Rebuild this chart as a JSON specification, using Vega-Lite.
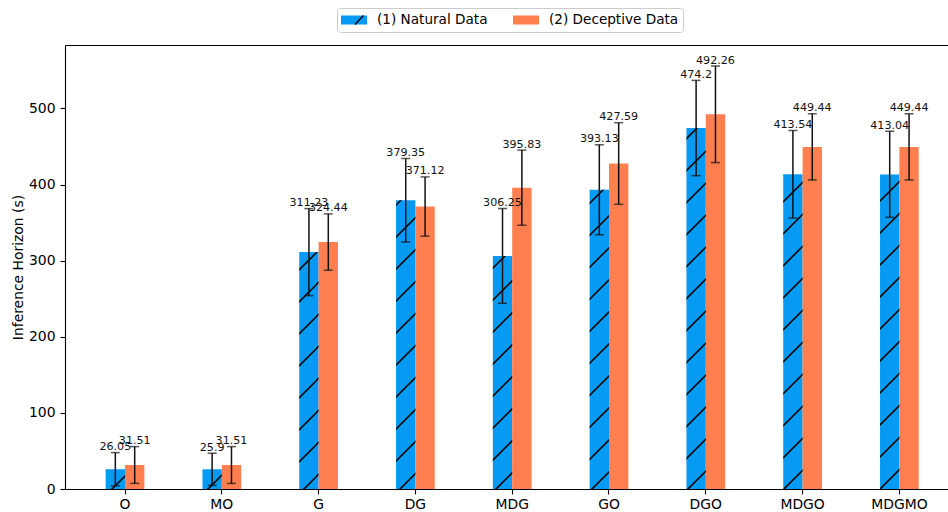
{
  "$schema": "https://vega.github.io/schema/vega-lite/v6.json",
  "width": 883,
  "height": 444,
  "autosize": "none",
  "padding": {"left": 65, "top": 45, "right": 0, "bottom": 23},
  "background": "white",
  "config": {
    "font": "DejaVu Sans",
    "view": {"stroke": null},
    "axis": {
      "grid": false,
      "domainColor": "black",
      "domainWidth": 1.1,
      "tickColor": "black",
      "tickWidth": 1.1,
      "tickSize": 5,
      "labelColor": "black",
      "labelFont": "DejaVu Sans",
      "labelFontSize": 13.9,
      "titleColor": "black",
      "titleFont": "DejaVu Sans",
      "titleFontSize": 13.9,
      "titleFontWeight": "normal"
    }
  },
  "data": {
    "values": [
      {"cat": "O", "series": "(1) Natural Data", "value": 26.05, "lo": 4.3, "hi": 47.8},
      {"cat": "O", "series": "(2) Deceptive Data", "value": 31.51, "lo": 7.3, "hi": 55.7},
      {"cat": "MO", "series": "(1) Natural Data", "value": 25.9, "lo": 4.8, "hi": 47.0},
      {"cat": "MO", "series": "(2) Deceptive Data", "value": 31.51, "lo": 7.3, "hi": 55.7},
      {"cat": "G", "series": "(1) Natural Data", "value": 311.23, "lo": 254.0, "hi": 368.4},
      {"cat": "G", "series": "(2) Deceptive Data", "value": 324.44, "lo": 287.4, "hi": 361.4},
      {"cat": "DG", "series": "(1) Natural Data", "value": 379.35, "lo": 324.5, "hi": 434.2},
      {"cat": "DG", "series": "(2) Deceptive Data", "value": 371.12, "lo": 332.2, "hi": 410.0},
      {"cat": "MDG", "series": "(1) Natural Data", "value": 306.25, "lo": 244.0, "hi": 368.5},
      {"cat": "MDG", "series": "(2) Deceptive Data", "value": 395.83, "lo": 346.5, "hi": 445.2},
      {"cat": "GO", "series": "(1) Natural Data", "value": 393.13, "lo": 334.0, "hi": 452.2},
      {"cat": "GO", "series": "(2) Deceptive Data", "value": 427.59, "lo": 374.0, "hi": 481.2},
      {"cat": "DGO", "series": "(1) Natural Data", "value": 474.2, "lo": 411.6, "hi": 536.8},
      {"cat": "DGO", "series": "(2) Deceptive Data", "value": 492.26, "lo": 428.8, "hi": 555.7},
      {"cat": "MDGO", "series": "(1) Natural Data", "value": 413.54, "lo": 356.0, "hi": 471.0},
      {"cat": "MDGO", "series": "(2) Deceptive Data", "value": 449.44, "lo": 406.0, "hi": 493.0},
      {"cat": "MDGMO", "series": "(1) Natural Data", "value": 413.04, "lo": 357.0, "hi": 470.0},
      {"cat": "MDGMO", "series": "(2) Deceptive Data", "value": 449.44, "lo": 406.0, "hi": 493.0}
    ]
  },
  "encoding": {
    "x": {
      "field": "cat", "type": "nominal", "sort": null,
      "scale": {"type": "band", "paddingInner": 0.6, "paddingOuter": 0.42, "range": [0, 894.4]},
      "axis": null
    },
    "xOffset": {
      "field": "series", "type": "nominal", "sort": null,
      "scale": {"paddingInner": 0, "paddingOuter": 0}
    }
  },
  "layer": [
    {
      "mark": {"type": "bar"},
      "encoding": {
        "x": {
          "field": "cat", "type": "nominal", "sort": null,
          "scale": {"type": "band", "paddingInner": 0.6, "paddingOuter": 0.42, "range": [0, 894.4]},
          "axis": {"orient": "bottom", "title": null, "labelAngle": 0, "labelPadding": 3}
        },
        "y": {
          "field": "value", "type": "quantitative",
          "scale": {"domain": [0, 583.3], "nice": false, "zero": true},
          "axis": {"title": "Inference Horizon (s)", "values": [0, 100, 200, 300, 400, 500], "labelPadding": 5, "titleX": -47, "titleY": 222, "titleBaseline": "middle"}
        },
        "color": {
          "field": "series", "type": "nominal",
          "scale": {"domain": ["(1) Natural Data", "(2) Deceptive Data"], "range": ["#069AF3", "#FF7F50"]},
          "legend": {
            "orient": "none", "legendX": 272, "legendY": -37,
            "direction": "horizontal", "title": null,
            "symbolType": "M-1,-0.346H1V0.346H-1Z", "symbolSize": 676,
            "symbolStrokeWidth": 0, "symbolOpacity": 1, "clipHeight": 16,
            "labelFontSize": 13.6, "labelColor": "black", "labelFont": "DejaVu Sans",
            "labelOffset": 10, "columnPadding": 25, "padding": 4,
            "strokeColor": "#cccccc", "fillColor": "white", "cornerRadius": 3,
            "zindex": 0
          }
        }
      }
    },
    {
      "transform": [{"filter": "datum.series === '(1) Natural Data'"}],
      "mark": {"type": "bar"},
      "encoding": {
        "y": {"field": "value", "type": "quantitative"},
        "strokeWidth": {
          "field": "series", "type": "ordinal",
          "scale": {"range": [1.4, 1.4]},
          "legend": {
            "orient": "none", "legendX": 272, "legendY": -37,
            "direction": "horizontal", "title": null,
            "symbolType": "M0,0.346L0.65,-0.346", "symbolSize": 676, "clipHeight": 16,
            "symbolStrokeColor": "black", "symbolFillColor": "transparent", "symbolOpacity": 1,
            "labelExpr": "''", "labelFontSize": 13.6, "labelOffset": 10, "padding": 4,
            "zindex": 1
          }
        },
        "fill": {
          "condition": [
            {"test": "datum.cat === 'O'", "value": {"gradient": "linear", "x1": 0, "y1": 0, "x2": 0.98786, "y2": 1.01184, "stops": [
              {"offset": 0.6351, "color": "rgba(0,0,0,0)"}, {"offset": 0.6479, "color": "#000"}, {"offset": 0.6887, "color": "#000"}, {"offset": 0.7015, "color": "rgba(0,0,0,0)"}
            ]}},
            {"test": "datum.cat === 'MO'", "value": {"gradient": "linear", "x1": 0, "y1": 0, "x2": 0.99097, "y2": 1.00888, "stops": [
              {"offset": 0.6135, "color": "rgba(0,0,0,0)"}, {"offset": 0.6263, "color": "#000"}, {"offset": 0.6673, "color": "#000"}, {"offset": 0.6801, "color": "rgba(0,0,0,0)"}
            ]}},
            {"test": "datum.cat === 'G'", "value": {"gradient": "linear", "x1": 0, "y1": 0, "x2": 0.087813, "y2": 1.07453, "stops": [
              {"offset": 0.0638, "color": "rgba(0,0,0,0)"}, {"offset": 0.0658, "color": "#000"}, {"offset": 0.0720, "color": "#000"}, {"offset": 0.0740, "color": "rgba(0,0,0,0)"},
              {"offset": 0.1887, "color": "rgba(0,0,0,0)"}, {"offset": 0.1907, "color": "#000"}, {"offset": 0.1969, "color": "#000"}, {"offset": 0.1989, "color": "rgba(0,0,0,0)"},
              {"offset": 0.3136, "color": "rgba(0,0,0,0)"}, {"offset": 0.3155, "color": "#000"}, {"offset": 0.3218, "color": "#000"}, {"offset": 0.3237, "color": "rgba(0,0,0,0)"},
              {"offset": 0.4385, "color": "rgba(0,0,0,0)"}, {"offset": 0.4404, "color": "#000"}, {"offset": 0.4467, "color": "#000"}, {"offset": 0.4486, "color": "rgba(0,0,0,0)"},
              {"offset": 0.5633, "color": "rgba(0,0,0,0)"}, {"offset": 0.5653, "color": "#000"}, {"offset": 0.5715, "color": "#000"}, {"offset": 0.5735, "color": "rgba(0,0,0,0)"},
              {"offset": 0.6882, "color": "rgba(0,0,0,0)"}, {"offset": 0.6902, "color": "#000"}, {"offset": 0.6964, "color": "#000"}, {"offset": 0.6984, "color": "rgba(0,0,0,0)"},
              {"offset": 0.8131, "color": "rgba(0,0,0,0)"}, {"offset": 0.8150, "color": "#000"}, {"offset": 0.8213, "color": "#000"}, {"offset": 0.8232, "color": "rgba(0,0,0,0)"},
              {"offset": 0.9380, "color": "rgba(0,0,0,0)"}, {"offset": 0.9399, "color": "#000"}, {"offset": 0.9461, "color": "#000"}, {"offset": 0.9481, "color": "rgba(0,0,0,0)"}
            ]}},
            {"test": "datum.cat === 'DG'", "value": {"gradient": "linear", "x1": 0, "y1": 0, "x2": 0.071210, "y2": 1.062264, "stops": [
              {"offset": 0.0112, "color": "rgba(0,0,0,0)"}, {"offset": 0.0128, "color": "#000"}, {"offset": 0.0180, "color": "#000"}, {"offset": 0.0197, "color": "rgba(0,0,0,0)"},
              {"offset": 0.1151, "color": "rgba(0,0,0,0)"}, {"offset": 0.1167, "color": "#000"}, {"offset": 0.1219, "color": "#000"}, {"offset": 0.1235, "color": "rgba(0,0,0,0)"},
              {"offset": 0.2189, "color": "rgba(0,0,0,0)"}, {"offset": 0.2205, "color": "#000"}, {"offset": 0.2257, "color": "#000"}, {"offset": 0.2274, "color": "rgba(0,0,0,0)"},
              {"offset": 0.3228, "color": "rgba(0,0,0,0)"}, {"offset": 0.3244, "color": "#000"}, {"offset": 0.3296, "color": "#000"}, {"offset": 0.3312, "color": "rgba(0,0,0,0)"},
              {"offset": 0.4266, "color": "rgba(0,0,0,0)"}, {"offset": 0.4282, "color": "#000"}, {"offset": 0.4334, "color": "#000"}, {"offset": 0.4350, "color": "rgba(0,0,0,0)"},
              {"offset": 0.5304, "color": "rgba(0,0,0,0)"}, {"offset": 0.5321, "color": "#000"}, {"offset": 0.5373, "color": "#000"}, {"offset": 0.5389, "color": "rgba(0,0,0,0)"},
              {"offset": 0.6343, "color": "rgba(0,0,0,0)"}, {"offset": 0.6359, "color": "#000"}, {"offset": 0.6411, "color": "#000"}, {"offset": 0.6427, "color": "rgba(0,0,0,0)"},
              {"offset": 0.7381, "color": "rgba(0,0,0,0)"}, {"offset": 0.7397, "color": "#000"}, {"offset": 0.7449, "color": "#000"}, {"offset": 0.7466, "color": "rgba(0,0,0,0)"},
              {"offset": 0.8420, "color": "rgba(0,0,0,0)"}, {"offset": 0.8436, "color": "#000"}, {"offset": 0.8488, "color": "#000"}, {"offset": 0.8504, "color": "rgba(0,0,0,0)"},
              {"offset": 0.9458, "color": "rgba(0,0,0,0)"}, {"offset": 0.9474, "color": "#000"}, {"offset": 0.9526, "color": "#000"}, {"offset": 0.9542, "color": "rgba(0,0,0,0)"}
            ]}},
            {"test": "datum.cat === 'MDG'", "value": {"gradient": "linear", "x1": 0, "y1": 0, "x2": 0.089337, "y2": 1.075640, "stops": [
              {"offset": 0.0434, "color": "rgba(0,0,0,0)"}, {"offset": 0.0454, "color": "#000"}, {"offset": 0.0517, "color": "#000"}, {"offset": 0.0537, "color": "rgba(0,0,0,0)"},
              {"offset": 0.1702, "color": "rgba(0,0,0,0)"}, {"offset": 0.1721, "color": "#000"}, {"offset": 0.1785, "color": "#000"}, {"offset": 0.1805, "color": "rgba(0,0,0,0)"},
              {"offset": 0.2969, "color": "rgba(0,0,0,0)"}, {"offset": 0.2989, "color": "#000"}, {"offset": 0.3052, "color": "#000"}, {"offset": 0.3072, "color": "rgba(0,0,0,0)"},
              {"offset": 0.4237, "color": "rgba(0,0,0,0)"}, {"offset": 0.4257, "color": "#000"}, {"offset": 0.4320, "color": "#000"}, {"offset": 0.4340, "color": "rgba(0,0,0,0)"},
              {"offset": 0.5504, "color": "rgba(0,0,0,0)"}, {"offset": 0.5524, "color": "#000"}, {"offset": 0.5587, "color": "#000"}, {"offset": 0.5607, "color": "rgba(0,0,0,0)"},
              {"offset": 0.6772, "color": "rgba(0,0,0,0)"}, {"offset": 0.6792, "color": "#000"}, {"offset": 0.6855, "color": "#000"}, {"offset": 0.6875, "color": "rgba(0,0,0,0)"},
              {"offset": 0.8039, "color": "rgba(0,0,0,0)"}, {"offset": 0.8059, "color": "#000"}, {"offset": 0.8123, "color": "#000"}, {"offset": 0.8142, "color": "rgba(0,0,0,0)"},
              {"offset": 0.9307, "color": "rgba(0,0,0,0)"}, {"offset": 0.9327, "color": "#000"}, {"offset": 0.9390, "color": "#000"}, {"offset": 0.9410, "color": "rgba(0,0,0,0)"}
            ]}},
            {"test": "datum.cat === 'GO'", "value": {"gradient": "linear", "x1": 0, "y1": 0, "x2": 0.068606, "y2": 1.060275, "stops": [
              {"offset": 0.0385, "color": "rgba(0,0,0,0)"}, {"offset": 0.0401, "color": "#000"}, {"offset": 0.0451, "color": "#000"}, {"offset": 0.0467, "color": "rgba(0,0,0,0)"},
              {"offset": 0.1389, "color": "rgba(0,0,0,0)"}, {"offset": 0.1405, "color": "#000"}, {"offset": 0.1455, "color": "#000"}, {"offset": 0.1471, "color": "rgba(0,0,0,0)"},
              {"offset": 0.2394, "color": "rgba(0,0,0,0)"}, {"offset": 0.2410, "color": "#000"}, {"offset": 0.2460, "color": "#000"}, {"offset": 0.2476, "color": "rgba(0,0,0,0)"},
              {"offset": 0.3398, "color": "rgba(0,0,0,0)"}, {"offset": 0.3414, "color": "#000"}, {"offset": 0.3464, "color": "#000"}, {"offset": 0.3480, "color": "rgba(0,0,0,0)"},
              {"offset": 0.4403, "color": "rgba(0,0,0,0)"}, {"offset": 0.4419, "color": "#000"}, {"offset": 0.4469, "color": "#000"}, {"offset": 0.4485, "color": "rgba(0,0,0,0)"},
              {"offset": 0.5407, "color": "rgba(0,0,0,0)"}, {"offset": 0.5423, "color": "#000"}, {"offset": 0.5473, "color": "#000"}, {"offset": 0.5489, "color": "rgba(0,0,0,0)"},
              {"offset": 0.6412, "color": "rgba(0,0,0,0)"}, {"offset": 0.6428, "color": "#000"}, {"offset": 0.6478, "color": "#000"}, {"offset": 0.6494, "color": "rgba(0,0,0,0)"},
              {"offset": 0.7416, "color": "rgba(0,0,0,0)"}, {"offset": 0.7432, "color": "#000"}, {"offset": 0.7482, "color": "#000"}, {"offset": 0.7498, "color": "rgba(0,0,0,0)"},
              {"offset": 0.8421, "color": "rgba(0,0,0,0)"}, {"offset": 0.8437, "color": "#000"}, {"offset": 0.8487, "color": "#000"}, {"offset": 0.8503, "color": "rgba(0,0,0,0)"},
              {"offset": 0.9426, "color": "rgba(0,0,0,0)"}, {"offset": 0.9441, "color": "#000"}, {"offset": 0.9491, "color": "#000"}, {"offset": 0.9507, "color": "rgba(0,0,0,0)"}
            ]}},
            {"test": "datum.cat === 'DGO'", "value": {"gradient": "linear", "x1": 0, "y1": 0, "x2": 0.056343, "y2": 1.050618, "stops": [
              {"offset": 0.0243, "color": "rgba(0,0,0,0)"}, {"offset": 0.0257, "color": "#000"}, {"offset": 0.0299, "color": "#000"}, {"offset": 0.0312, "color": "rgba(0,0,0,0)"},
              {"offset": 0.1085, "color": "rgba(0,0,0,0)"}, {"offset": 0.1098, "color": "#000"}, {"offset": 0.1140, "color": "#000"}, {"offset": 0.1153, "color": "rgba(0,0,0,0)"},
              {"offset": 0.1926, "color": "rgba(0,0,0,0)"}, {"offset": 0.1939, "color": "#000"}, {"offset": 0.1981, "color": "#000"}, {"offset": 0.1994, "color": "rgba(0,0,0,0)"},
              {"offset": 0.2767, "color": "rgba(0,0,0,0)"}, {"offset": 0.2781, "color": "#000"}, {"offset": 0.2823, "color": "#000"}, {"offset": 0.2836, "color": "rgba(0,0,0,0)"},
              {"offset": 0.3609, "color": "rgba(0,0,0,0)"}, {"offset": 0.3622, "color": "#000"}, {"offset": 0.3664, "color": "#000"}, {"offset": 0.3677, "color": "rgba(0,0,0,0)"},
              {"offset": 0.4450, "color": "rgba(0,0,0,0)"}, {"offset": 0.4463, "color": "#000"}, {"offset": 0.4505, "color": "#000"}, {"offset": 0.4518, "color": "rgba(0,0,0,0)"},
              {"offset": 0.5291, "color": "rgba(0,0,0,0)"}, {"offset": 0.5304, "color": "#000"}, {"offset": 0.5346, "color": "#000"}, {"offset": 0.5360, "color": "rgba(0,0,0,0)"},
              {"offset": 0.6133, "color": "rgba(0,0,0,0)"}, {"offset": 0.6146, "color": "#000"}, {"offset": 0.6188, "color": "#000"}, {"offset": 0.6201, "color": "rgba(0,0,0,0)"},
              {"offset": 0.6974, "color": "rgba(0,0,0,0)"}, {"offset": 0.6987, "color": "#000"}, {"offset": 0.7029, "color": "#000"}, {"offset": 0.7042, "color": "rgba(0,0,0,0)"},
              {"offset": 0.7815, "color": "rgba(0,0,0,0)"}, {"offset": 0.7828, "color": "#000"}, {"offset": 0.7870, "color": "#000"}, {"offset": 0.7884, "color": "rgba(0,0,0,0)"},
              {"offset": 0.8657, "color": "rgba(0,0,0,0)"}, {"offset": 0.8670, "color": "#000"}, {"offset": 0.8712, "color": "#000"}, {"offset": 0.8725, "color": "rgba(0,0,0,0)"},
              {"offset": 0.9498, "color": "rgba(0,0,0,0)"}, {"offset": 0.9511, "color": "#000"}, {"offset": 0.9553, "color": "#000"}, {"offset": 0.9566, "color": "rgba(0,0,0,0)"}
            ]}},
            {"test": "datum.cat === 'MDGO'", "value": {"gradient": "linear", "x1": 0, "y1": 0, "x2": 0.065036, "y2": 1.057508, "stops": [
              {"offset": 0.0786, "color": "rgba(0,0,0,0)"}, {"offset": 0.0801, "color": "#000"}, {"offset": 0.0849, "color": "#000"}, {"offset": 0.0864, "color": "rgba(0,0,0,0)"},
              {"offset": 0.1743, "color": "rgba(0,0,0,0)"}, {"offset": 0.1758, "color": "#000"}, {"offset": 0.1806, "color": "#000"}, {"offset": 0.1821, "color": "rgba(0,0,0,0)"},
              {"offset": 0.2701, "color": "rgba(0,0,0,0)"}, {"offset": 0.2716, "color": "#000"}, {"offset": 0.2764, "color": "#000"}, {"offset": 0.2779, "color": "rgba(0,0,0,0)"},
              {"offset": 0.3659, "color": "rgba(0,0,0,0)"}, {"offset": 0.3674, "color": "#000"}, {"offset": 0.3722, "color": "#000"}, {"offset": 0.3737, "color": "rgba(0,0,0,0)"},
              {"offset": 0.4616, "color": "rgba(0,0,0,0)"}, {"offset": 0.4631, "color": "#000"}, {"offset": 0.4679, "color": "#000"}, {"offset": 0.4694, "color": "rgba(0,0,0,0)"},
              {"offset": 0.5574, "color": "rgba(0,0,0,0)"}, {"offset": 0.5589, "color": "#000"}, {"offset": 0.5637, "color": "#000"}, {"offset": 0.5652, "color": "rgba(0,0,0,0)"},
              {"offset": 0.6532, "color": "rgba(0,0,0,0)"}, {"offset": 0.6547, "color": "#000"}, {"offset": 0.6594, "color": "#000"}, {"offset": 0.6609, "color": "rgba(0,0,0,0)"},
              {"offset": 0.7489, "color": "rgba(0,0,0,0)"}, {"offset": 0.7504, "color": "#000"}, {"offset": 0.7552, "color": "#000"}, {"offset": 0.7567, "color": "rgba(0,0,0,0)"},
              {"offset": 0.8447, "color": "rgba(0,0,0,0)"}, {"offset": 0.8462, "color": "#000"}, {"offset": 0.8510, "color": "#000"}, {"offset": 0.8525, "color": "rgba(0,0,0,0)"},
              {"offset": 0.9404, "color": "rgba(0,0,0,0)"}, {"offset": 0.9419, "color": "#000"}, {"offset": 0.9467, "color": "#000"}, {"offset": 0.9482, "color": "rgba(0,0,0,0)"}
            ]}},
            {"test": "datum.cat === 'MDGMO'", "value": {"gradient": "linear", "x1": 0, "y1": 0, "x2": 0.065123, "y2": 1.057579, "stops": [
              {"offset": 0.0751, "color": "rgba(0,0,0,0)"}, {"offset": 0.0766, "color": "#000"}, {"offset": 0.0814, "color": "#000"}, {"offset": 0.0829, "color": "rgba(0,0,0,0)"},
              {"offset": 0.1710, "color": "rgba(0,0,0,0)"}, {"offset": 0.1725, "color": "#000"}, {"offset": 0.1773, "color": "#000"}, {"offset": 0.1788, "color": "rgba(0,0,0,0)"},
              {"offset": 0.2668, "color": "rgba(0,0,0,0)"}, {"offset": 0.2683, "color": "#000"}, {"offset": 0.2731, "color": "#000"}, {"offset": 0.2746, "color": "rgba(0,0,0,0)"},
              {"offset": 0.3627, "color": "rgba(0,0,0,0)"}, {"offset": 0.3642, "color": "#000"}, {"offset": 0.3690, "color": "#000"}, {"offset": 0.3705, "color": "rgba(0,0,0,0)"},
              {"offset": 0.4586, "color": "rgba(0,0,0,0)"}, {"offset": 0.4601, "color": "#000"}, {"offset": 0.4649, "color": "#000"}, {"offset": 0.4664, "color": "rgba(0,0,0,0)"},
              {"offset": 0.5545, "color": "rgba(0,0,0,0)"}, {"offset": 0.5560, "color": "#000"}, {"offset": 0.5608, "color": "#000"}, {"offset": 0.5623, "color": "rgba(0,0,0,0)"},
              {"offset": 0.6503, "color": "rgba(0,0,0,0)"}, {"offset": 0.6518, "color": "#000"}, {"offset": 0.6566, "color": "#000"}, {"offset": 0.6581, "color": "rgba(0,0,0,0)"},
              {"offset": 0.7462, "color": "rgba(0,0,0,0)"}, {"offset": 0.7477, "color": "#000"}, {"offset": 0.7525, "color": "#000"}, {"offset": 0.7540, "color": "rgba(0,0,0,0)"},
              {"offset": 0.8421, "color": "rgba(0,0,0,0)"}, {"offset": 0.8436, "color": "#000"}, {"offset": 0.8484, "color": "#000"}, {"offset": 0.8499, "color": "rgba(0,0,0,0)"},
              {"offset": 0.9380, "color": "rgba(0,0,0,0)"}, {"offset": 0.9395, "color": "#000"}, {"offset": 0.9443, "color": "#000"}, {"offset": 0.9458, "color": "rgba(0,0,0,0)"}
            ]}}
          ],
          "value": "transparent"
        }
      }
    },
    {
      "mark": {"type": "rule", "color": "#111111", "strokeWidth": 1.5},
      "encoding": {
        "y": {"field": "lo", "type": "quantitative"},
        "y2": {"field": "hi"}
      }
    },
    {
      "mark": {"type": "tick", "color": "#111111", "size": 9, "thickness": 1.5, "orient": "horizontal"},
      "encoding": {
        "y": {"field": "lo", "type": "quantitative"}
      }
    },
    {
      "mark": {"type": "tick", "color": "#111111", "size": 9, "thickness": 1.5, "orient": "horizontal"},
      "encoding": {
        "y": {"field": "hi", "type": "quantitative"}
      }
    },
    {
      "mark": {"type": "text", "font": "DejaVu Sans", "fontSize": 11.1, "color": "#111111", "baseline": "alphabetic", "align": "center", "dy": -2.5},
      "encoding": {
        "x": {
          "field": "cat", "type": "nominal", "sort": null,
          "scale": {"type": "band", "paddingInner": 0.6, "paddingOuter": 0.42, "range": [0, 894.4]},
          "axis": {"orient": "top", "labels": false, "ticks": false, "title": null, "domainColor": "black", "domainWidth": 1.1}
        },
        "y": {"field": "hi", "type": "quantitative"},
        "text": {"field": "value", "type": "quantitative"}
      }
    }
  ],
  "resolve": {"axis": {"x": "independent"}}
}
